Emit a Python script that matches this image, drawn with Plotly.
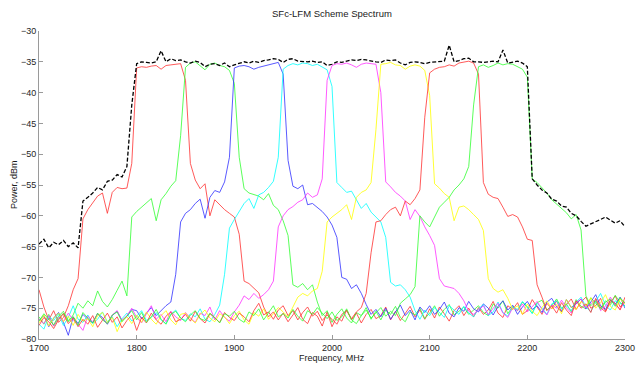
import plotly.graph_objects as go

# Frequency grid (MHz), 5 MHz spacing
FREQ_MHZ = list(range(1700, 2301, 5))

# Sub-band spectra (dBm), one per channel
ch1_red = [
    -72.0, -74.8, -76.9, -75.4, -77.3, -76.5, -74.6, -72.0, -70.2, -60.5,
    -59.0, -57.9, -56.8, -56.3, -59.6, -56.2, -55.4, -55.6, -55.5, -51.5,
    -36.0, -35.8, -35.9, -35.7, -35.6, -36.2, -35.6, -35.5, -35.4, -35.3,
    -38.0, -51.5, -54.2, -55.6, -54.8, -60.0, -57.4, -58.2, -59.0, -59.6,
    -60.2, -63.0, -70.6, -71.0, -71.8, -72.5, -74.8, -76.4, -75.6, -76.9,
    -75.8, -77.2, -76.1, -74.9, -76.8, -77.5, -75.7, -76.3, -77.9, -75.6,
    -78.0, -76.4, -77.1, -75.3, -76.9, -75.8, -77.4, -76.0, -75.2, -76.7,
    -76.2, -74.8, -76.9, -75.5, -77.0, -75.9, -74.7, -76.4, -75.3, -76.8,
    -75.1, -76.6, -74.8, -75.9, -77.1, -75.4, -74.6, -76.2, -75.0, -76.4,
    -74.9, -76.0, -75.3, -73.9, -75.8, -76.5, -74.6, -75.2, -74.1, -76.0,
    -75.4, -73.6, -74.9, -76.0, -74.2, -75.1, -73.8, -75.6, -74.4, -73.5,
    -75.2, -74.0, -73.2, -75.0, -74.6, -73.4, -75.5, -74.1, -73.0, -74.8,
    -73.9,
]

ch2_green = [
    -76.4, -77.6, -76.0, -77.9, -76.7, -75.8, -77.2, -76.1, -74.2, -75.0,
    -73.8, -74.6, -72.2, -73.9, -74.8, -73.6, -72.1, -70.6, -73.0, -60.2,
    -59.3, -58.6, -57.8, -57.2, -60.8, -57.4, -56.4, -55.2, -54.3, -47.0,
    -35.9, -35.2, -35.0, -35.6, -36.3, -35.4, -35.2, -35.6, -35.8, -36.4,
    -38.5, -50.5, -55.6, -56.3, -56.5, -56.8, -57.4, -56.4, -58.3, -59.0,
    -60.8, -63.2, -71.2, -71.6, -71.0, -72.0, -71.2, -74.0, -76.2, -75.4,
    -77.3, -76.0, -75.1, -76.6, -77.4, -75.7, -76.2, -74.9, -76.8, -75.5,
    -76.9, -75.3, -76.0, -74.7, -76.5, -77.2, -75.6, -76.1, -75.0, -76.7,
    -75.8, -74.6, -76.3, -75.2, -74.4, -76.1, -75.5, -74.8, -76.0, -75.3,
    -74.6, -75.7, -76.2, -74.3, -75.0, -73.8, -75.9, -74.7, -75.4, -74.0,
    -74.9, -75.8, -74.1, -73.7, -75.3, -74.6, -73.5, -75.0, -74.3, -75.6,
    -73.6, -74.7, -75.1, -73.3, -74.2, -75.0, -73.8, -74.5, -72.9, -74.1,
    -74.6,
]

ch3_blue = [
    -77.0, -76.2, -78.0, -76.6, -75.7, -77.3, -79.4, -76.4, -77.5, -76.0,
    -76.8, -77.4, -75.9, -76.5, -77.6, -76.2, -75.5, -77.0, -76.3, -75.2,
    -75.4, -76.7, -75.8, -74.9, -76.2, -75.4, -74.6, -74.0, -69.5, -61.0,
    -59.6, -59.0, -58.0, -57.3, -60.4, -57.0, -55.9, -56.2, -54.5, -50.5,
    -36.0, -35.7, -35.6, -35.8, -36.2, -35.9, -35.7, -35.6, -35.3, -35.1,
    -37.0, -51.0, -55.2, -55.6, -55.0, -58.2, -58.0, -58.6, -59.3, -60.2,
    -61.5, -63.5, -70.0, -70.3, -71.8, -71.2, -72.6, -74.4, -76.0, -75.2,
    -76.4, -75.0, -76.8, -75.6, -74.5, -76.2, -75.3, -76.9, -74.8, -75.7,
    -74.6, -76.0, -75.2, -74.0, -75.8, -76.4, -74.9, -75.5, -73.9, -75.1,
    -75.6, -74.3, -75.0, -76.1, -74.7, -73.8, -75.3, -74.5, -76.0, -74.8,
    -73.9, -75.2, -74.6, -75.7, -74.0, -73.4, -74.8, -75.5, -73.6, -74.9,
    -74.3, -73.5, -75.1, -74.0, -72.8, -74.6, -75.2, -73.7, -74.4, -73.2,
    -75.0,
]

ch4_cyan = [
    -77.6, -78.4, -76.3, -77.0, -75.9, -77.8, -76.5, -74.6, -76.8, -77.3,
    -76.1, -77.5, -76.8, -75.6, -77.2, -76.4, -78.0, -76.7, -75.8, -77.1,
    -76.3, -75.4, -77.0, -76.5, -75.7, -76.9, -77.5, -76.0, -75.3, -76.6,
    -77.0, -75.9, -76.4, -75.1, -76.8, -77.2, -76.0, -74.5, -69.5, -62.0,
    -60.6, -59.2, -58.0, -57.2, -58.8, -56.6, -56.2, -55.4, -54.4, -50.5,
    -36.2, -35.6, -35.3, -35.5, -35.2, -35.3, -35.6, -35.4, -35.9, -36.3,
    -39.0, -54.6, -55.4, -56.2, -56.0, -57.4, -58.8, -58.0, -59.4, -60.2,
    -61.0, -63.5, -70.8, -71.4, -71.2, -72.0, -73.2, -75.4, -76.8, -75.3,
    -76.2, -74.9, -75.7, -76.5, -74.6, -75.3, -76.0, -74.7, -75.8, -76.4,
    -75.1, -74.4, -76.2, -75.6, -74.0, -75.7, -76.3, -74.8, -75.2, -73.9,
    -74.7, -75.9, -74.2, -75.0, -76.0, -74.3, -73.8, -75.1, -74.6, -75.4,
    -74.0, -73.2, -74.8, -75.6, -73.9, -72.6, -74.5, -75.3, -73.8, -74.2,
    -74.7,
]

ch5_magenta = [
    -76.8, -77.5, -76.2, -77.9, -76.4, -77.1, -75.8, -76.9, -77.6, -78.6,
    -76.3, -77.2, -75.9, -76.8, -77.5, -76.1, -75.4, -77.0, -76.2, -75.0,
    -76.5, -77.4, -75.9, -74.6, -76.8, -76.0, -77.2, -75.5, -76.4, -77.0,
    -75.7, -76.6, -77.3, -75.8, -76.2, -74.8, -76.9, -75.4, -76.5, -77.1,
    -75.6, -74.5, -73.0, -73.6, -72.6, -73.4, -72.8, -72.0, -70.6, -61.8,
    -60.0, -59.0, -58.5, -57.8, -57.4, -56.3, -57.0, -56.6, -54.0, -38.0,
    -35.6, -35.3, -35.4, -35.2, -35.5, -35.9, -35.4, -35.2, -35.3, -35.4,
    -40.0, -54.5, -55.3, -56.2, -56.8, -57.6, -60.6, -59.0, -60.1, -61.8,
    -63.2, -64.8, -70.2, -71.4, -71.6, -71.8, -72.6, -73.8, -75.5, -76.0,
    -75.3, -74.6, -76.1, -75.0, -74.2, -75.8, -76.5, -74.9, -75.4, -74.3,
    -75.6, -74.8, -73.9, -75.2, -76.1, -74.5, -75.0, -73.7, -74.9, -75.8,
    -74.1, -73.5, -75.0, -74.3, -73.6, -75.4, -74.7, -73.2, -74.5, -75.1,
    -74.0,
]

ch6_yellow = [
    -77.4, -76.1, -77.9, -76.6, -75.8, -77.2, -76.3, -77.8, -76.0, -77.1,
    -76.7, -78.0, -76.2, -75.7, -77.3, -76.5, -78.8, -77.0, -76.4, -77.5,
    -76.1, -77.3, -75.6, -76.8, -77.6, -76.2, -75.4, -76.9, -77.7, -76.0,
    -75.8, -76.7, -77.4, -76.0, -75.3, -76.6, -77.2, -75.9, -76.4, -77.5,
    -76.2, -75.5, -76.9, -77.6, -75.7, -76.3, -75.1, -76.8, -75.9, -74.9,
    -75.6, -76.4, -74.8, -73.2, -72.6, -73.0, -72.2, -71.8, -69.0, -61.0,
    -60.2, -59.6, -59.0, -58.2, -60.6, -57.0, -56.2, -55.8, -54.6, -46.0,
    -35.4, -35.3, -35.1, -35.5, -35.6, -36.2, -35.7, -35.5, -35.7, -36.4,
    -40.5, -54.8, -55.5, -56.4, -57.0, -60.8, -58.6, -58.4, -59.0, -59.8,
    -60.6, -62.4, -70.2, -71.8, -72.4, -72.0, -73.4, -75.2, -74.6, -76.0,
    -74.3, -75.5, -76.2, -74.9, -73.8, -75.1, -74.4, -75.9, -73.6, -74.8,
    -75.2, -73.9, -74.6, -73.3, -75.0, -74.1, -72.8, -74.7, -75.3, -73.5,
    -74.4,
]

ch7_red = [
    -77.8, -76.5, -77.2, -78.3, -76.9, -75.9, -77.5, -76.6, -78.0, -76.8,
    -77.6, -76.2, -78.1, -76.9, -75.8, -77.3, -76.4, -78.2, -77.0, -76.1,
    -78.6, -76.5, -77.4, -75.8, -76.9, -77.6, -76.3, -75.6, -77.2, -76.8,
    -76.0, -77.1, -75.5, -76.7, -77.4, -75.9, -76.6, -77.3, -75.7, -76.5,
    -77.0, -75.8, -76.4, -77.2, -75.4, -74.2, -76.1, -75.6, -76.8, -75.3,
    -74.6, -76.2, -75.4, -76.9, -75.7, -74.8, -76.3, -75.5, -77.0, -76.1,
    -76.8, -77.6, -76.0, -75.4, -76.7, -75.6, -74.9, -72.6, -66.0, -61.0,
    -60.8, -59.8, -59.0, -58.6, -60.0, -57.6, -58.2, -57.2, -55.8, -44.0,
    -36.8, -36.2, -35.9, -35.8, -35.5, -35.7, -35.2, -35.0, -34.9, -35.2,
    -37.0, -54.6, -56.5, -57.0, -57.2, -58.6, -60.1, -59.8, -60.2, -61.8,
    -63.8, -64.0, -71.2, -73.2, -75.4, -74.6, -75.8, -74.1, -75.3, -76.2,
    -73.8, -75.0, -74.3, -75.7, -73.4, -74.9, -75.6, -73.7, -74.2, -75.3,
    -73.2,
]

ch8_green = [
    -77.1, -75.9, -76.8, -77.7, -76.3, -75.5, -77.0, -76.4, -77.8, -75.7,
    -76.6, -77.4, -75.8, -76.9, -77.5, -76.1, -75.6, -77.2, -76.3, -75.4,
    -76.9, -75.7, -77.3, -76.4, -75.2, -76.8, -77.6, -76.0, -75.5, -76.6,
    -77.2, -76.1, -75.4, -76.7, -77.0, -75.8, -76.5, -77.4, -75.9, -76.3,
    -75.5, -76.8, -77.3, -75.6, -76.2, -75.1, -76.9, -75.7, -74.6, -76.4,
    -75.9, -76.6, -75.2, -76.3, -77.1, -75.4, -76.0, -74.9, -75.8, -76.7,
    -75.6, -77.0, -76.4, -75.1, -76.9, -77.5, -76.2, -75.3, -76.6, -75.8,
    -74.9, -76.3, -75.5, -76.2, -74.2, -73.5, -72.8, -71.5, -60.0, -61.0,
    -61.8, -60.2, -58.6, -57.8, -57.0, -55.8, -55.0, -54.0, -52.0, -42.0,
    -35.8, -35.5, -35.9, -35.6, -35.2, -35.5, -35.3, -35.4, -35.8, -36.2,
    -37.5, -54.0, -54.6, -55.4, -56.3, -57.4, -58.1, -58.9, -59.5, -60.5,
    -59.8, -62.3, -73.0, -74.6, -73.8, -75.2, -74.0, -73.5, -74.7, -73.3,
    -74.2,
]

# Combined spectrum of the full SFc-LFM signal (dBm)
combined = [
    -64.6, -63.8, -65.2, -64.3, -64.7, -64.0, -65.0, -64.4, -65.2, -57.6,
    -57.0, -56.3, -55.4, -55.8, -54.4, -54.2, -53.3, -53.7, -52.0, -42.0,
    -35.3, -35.0, -35.1, -35.2, -35.0, -33.2, -35.0, -34.5, -34.8, -34.7,
    -35.0, -35.2, -34.9, -35.1, -35.8, -35.4, -35.3, -35.6, -35.2, -35.8,
    -35.5, -35.3, -35.0, -35.2, -34.9, -35.1, -34.8, -34.7, -34.5, -34.6,
    -35.1, -34.6, -34.5, -34.9, -35.0, -35.0, -34.9, -35.1, -35.0, -35.6,
    -35.4, -35.0, -35.1, -34.9, -34.7, -34.8, -34.6, -34.7, -34.9, -35.0,
    -35.1, -34.7, -34.8, -34.7, -35.2, -35.5, -35.1, -35.0, -35.1, -35.3,
    -35.1, -35.0, -35.0, -34.9, -32.3, -35.0, -34.8, -34.5, -34.4, -35.0,
    -35.0, -35.1, -35.0, -34.9, -35.0, -33.1, -35.2, -35.0, -34.9, -35.2,
    -35.8, -54.0, -55.0, -55.8, -56.3, -57.3, -57.6, -58.4, -58.6, -59.6,
    -60.0, -60.9, -61.7, -61.3, -61.0, -60.6, -60.2, -60.7, -61.2, -60.8,
    -61.8,
]

X_TICKS = [1700, 1800, 1900, 2000, 2100, 2200, 2300]
Y_TICKS = [-80, -75, -70, -65, -60, -55, -50, -45, -40, -35, -30]

CHANNELS = [
    ("Channel 1", ch1_red, "#ff3030"),
    ("Channel 2", ch2_green, "#30ff30"),
    ("Channel 3", ch3_blue, "#3030ff"),
    ("Channel 4", ch4_cyan, "#00ffff"),
    ("Channel 5", ch5_magenta, "#ff30ff"),
    ("Channel 6", ch6_yellow, "#ffff00"),
    ("Channel 7", ch7_red, "#ff3030"),
    ("Channel 8", ch8_green, "#30ff30"),
]

for _, vals, _ in CHANNELS:
    if len(vals) != len(FREQ_MHZ):
        raise ValueError("series length mismatch")

fig = go.Figure()
for name, vals, color in CHANNELS:
    fig.add_trace(go.Scatter(
        x=FREQ_MHZ, y=vals, mode="lines", name=name,
        line=dict(color=color, width=0.8),
    ))

fig.add_trace(go.Scatter(
    x=FREQ_MHZ, y=combined, mode="lines", name="Combined",
    line=dict(color="black", width=1.3, dash="4px,2px"),
))

FONT = "Liberation Sans, Arial, Helvetica, sans-serif"
axis_style = dict(
    automargin=False,
    showgrid=False, zeroline=False, showline=True,
    linecolor="#9a9a9a", linewidth=1,
    ticks="inside", ticklen=4, tickcolor="#9a9a9a", tickwidth=1,
    tickfont=dict(family=FONT, size=9, color="#262626"),
    mirror=False,
)

fig.update_layout(
    width=636, height=370, autosize=False,
    margin=dict(l=39, r=11, t=31, b=31),
    paper_bgcolor="white", plot_bgcolor="white",
    showlegend=False,
    xaxis=dict(range=[1700, 2300], tickvals=X_TICKS, **axis_style),
    yaxis=dict(range=[-80, -30], tickvals=Y_TICKS, **axis_style),
    annotations=[
        dict(text="SFc-LFM Scheme Spectrum", xref="paper", yref="paper",
             x=0.5, y=1, xanchor="center", yanchor="middle", yshift=18,
             showarrow=False, font=dict(family=FONT, size=9.5, color="#1a1a1a")),
        dict(text="Frequency, MHz", xref="paper", yref="paper",
             x=0.5, y=0, xanchor="center", yanchor="middle", yshift=-19,
             showarrow=False, font=dict(family=FONT, size=9, color="#1a1a1a")),
        dict(text="Power, dBm", xref="paper", yref="paper",
             x=0, y=0.5, xanchor="center", yanchor="middle", xshift=-25,
             textangle=-90, showarrow=False,
             font=dict(family=FONT, size=9, color="#1a1a1a")),
    ],
)

# Fixed-size page: no body margin, no scrollbars, no responsive resizing
fig.write_html(
    "out.html",
    config={"responsive": False, "displayModeBar": False},
    post_script=(
        "document.documentElement.style.overflow='hidden';"
        "document.body.style.margin='0';"
        "document.body.style.overflow='hidden';"
    ),
)
